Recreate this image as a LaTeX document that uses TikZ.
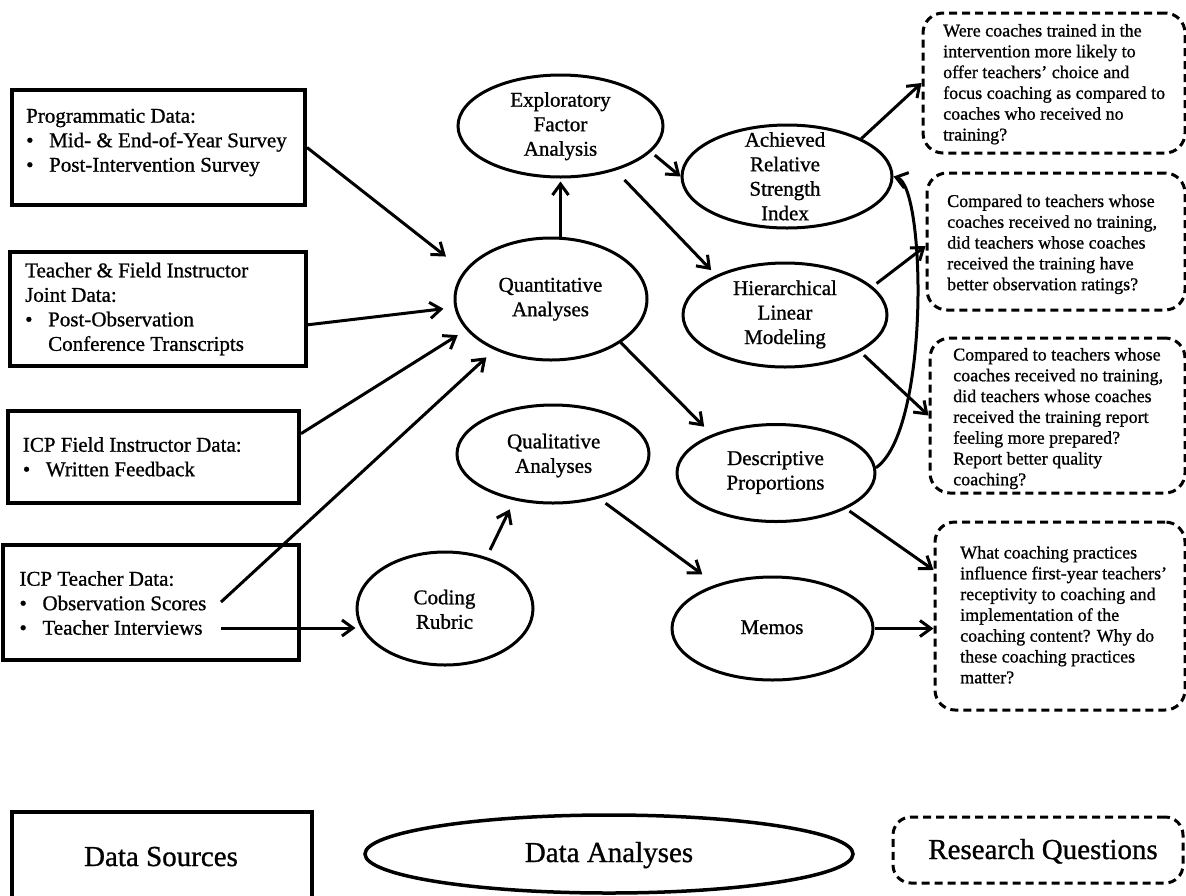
\documentclass[tikz,border=0pt]{standalone}
\usepackage{fontspec}
\setmainfont{Liberation Serif}[FakeBold=0.9]
\usetikzlibrary{arrows.meta,calc,shapes.geometric}

% stacked lines, first baseline is the node's base
\newcommand{\txtl}[1]{\begin{tabular}[t]{@{}l@{}}#1\end{tabular}}
\newcommand{\txtc}[1]{\begin{tabular}[t]{@{}c@{}}#1\end{tabular}}
\newcommand{\bitem}{\makebox[23pt][l]{\textbullet}}
\newcommand{\bcont}{\hspace*{23pt}}

\begin{document}
\begin{tikzpicture}[x=1pt,y=-1pt,
  srcbox/.style={draw, line width=4pt, inner sep=0pt},
  ana/.style={draw, ellipse, line width=3pt, inner sep=0pt},
  rqbox/.style={draw, line width=3pt, dash pattern=on 8pt off 5pt,
                rounded corners=20pt, inner sep=0pt},
  srctxt/.style={anchor=base west, inner sep=0pt, font=\fontsize{21}{24.5}\selectfont},
  anatxt/.style={anchor=base, inner sep=0pt, font=\fontsize{21}{24.5}\selectfont},
  rqtxt/.style={anchor=base west, inner sep=0pt, font=\fontsize{18}{20.8}\selectfont},
  legtxt/.style={anchor=base, inner sep=0pt, font=\fontsize{29}{34}\selectfont},
  arr/.style={line width=3pt, -{Straight Barb[length=11pt,width=16pt]}},
]
\useasboundingbox (0,0) rectangle (1186,895);

% ---------- data sources ----------
\node[srcbox, minimum width=293pt, minimum height=115pt] (prog) at (158.5,147.5) {};
\node[srctxt] (prog-t) at (26,122.7) {\txtl{Programmatic Data:\\
  \bitem Mid- \& End-of-Year Survey\\
  \bitem Post-Intervention Survey}};

\node[srcbox, minimum width=296pt, minimum height=114pt] (tfj) at (158,309) {};
\node[srctxt] (tfj-t) at (25,277.3) {\txtl{Teacher \& Field Instructor\\
  Joint Data:\\
  \bitem Post-Observation\\
  \bcont Conference Transcripts}};

\node[srcbox, minimum width=291pt, minimum height=92pt] (icpf) at (153.5,457) {};
\node[srctxt] (icpf-t) at (22.7,451.7) {\txtl{ICP Field Instructor Data:\\
  \bitem Written Feedback}};

\node[srcbox, minimum width=296pt, minimum height=115pt] (icpt) at (151,602.5) {};
\node[srctxt] (icpt-t) at (19.3,585.7) {\txtl{ICP Teacher Data:\\
  \bitem Observation Scores\\
  \bitem Teacher Interviews}};
\coordinate (obsend) at (221,602);
\coordinate (intend) at (221,628);

% ---------- analyses ----------
\node[ana, minimum width=205pt, minimum height=102pt] (efa) at (560.5,126) {};
\node[anatxt] (efa-t) at (560.5,106.7) {\txtc{Exploratory\\Factor\\Analysis}};

\node[ana, minimum width=192pt, minimum height=122pt] (quant) at (551,299) {};
\node[anatxt] (quant-t) at (550.5,291.7) {\txtc{Quantitative\\Analyses}};

\node[ana, minimum width=210pt, minimum height=103pt] (ars) at (787,176.5) {};
\node[anatxt] (ars-t) at (785,146.7) {\txtc{Achieved\\Relative\\Strength\\Index}};

\node[ana, minimum width=204pt, minimum height=104pt] (hlm) at (785,315) {};
\node[anatxt] (hlm-t) at (785,295) {\txtc{Hierarchical\\Linear\\Modeling}};

\node[ana, minimum width=198pt, minimum height=97pt] (desc) at (776,473) {};
\node[anatxt] (desc-t) at (775.5,465) {\txtc{Descriptive\\Proportions}};

\node[ana, minimum width=192pt, minimum height=98pt] (qual) at (553,454) {};
\node[anatxt] (qual-t) at (553.7,448.3) {\txtc{Qualitative\\Analyses}};

\node[ana, minimum width=176pt, minimum height=113pt] (cr) at (445,608.5) {};
\node[anatxt] (cr-t) at (444.5,604.3) {\txtc{Coding\\Rubric}};

\node[ana, minimum width=201pt, minimum height=103pt] (memos) at (772.5,628.5) {};
\node[anatxt] (memos-t) at (772,634) {Memos};

% ---------- research questions ----------
\node[rqbox, minimum width=262pt, minimum height=140pt] (rq1) at (1054,83) {};
\node[rqtxt] (rq1-t) at (943,36.5) {\txtl{Were coaches trained in the\\
  intervention more likely to\\
  offer teachers' choice and\\
  focus coaching as compared to\\
  coaches who received no\\
  training?}};

\node[rqbox, minimum width=258pt, minimum height=137pt] (rq2) at (1056,241.5) {};
\node[rqtxt] (rq2-t) at (947,207) {\txtl{Compared to teachers whose\\
  coaches received no training,\\
  did teachers whose coaches\\
  received the training have\\
  better observation ratings?}};

\node[rqbox, minimum width=255pt, minimum height=155pt] (rq3) at (1057.5,415.5) {};
\node[rqtxt] (rq3-t) at (953,360.5) {\txtl{Compared to teachers whose\\
  coaches received no training,\\
  did teachers whose coaches\\
  received the training report\\
  feeling more prepared?\\
  Report better quality\\
  coaching?}};

\node[rqbox, minimum width=250pt, minimum height=188pt] (rq4) at (1060,616) {};
\node[rqtxt] (rq4-t) at (960,558.5) {\txtl{What coaching practices\\
  influence first-year teachers'\\
  receptivity to coaching and\\
  implementation of the\\
  coaching content? Why do\\
  these coaching practices\\
  matter?}};

% ---------- connectors ----------
\draw[arr, shorten >=23pt] (prog.east) -- (quant.162);
\draw[arr, shorten >=11pt] (tfj.-6.9) -- (quant.-175.1);
\draw[arr, shorten >=10pt] (icpf.9.3) -- (quant.-160.7);
\draw[arr, shorten >=11pt] (obsend) -- (quant.-138.3);
\draw[arr] (intend) -- (intend -| cr.west);

\draw[arr, shorten >=3pt] (efa.south |- quant.north) -- (efa.south);
\draw[arr, shorten <=5pt] (efa.-16) -- (ars.west);
\draw[arr, shorten <=13pt, shorten >=7pt] (efa.-39.3) -- (hlm.150.8);
\draw[arr, shorten >=11pt] (quant.-32.5) -- (desc.149.5);
\draw[arr, shorten <=8pt, shorten >=10pt] (cr.51.5) -- (qual.-130.3);
\draw[arr, shorten <=8pt, shorten >=17pt] (qual.-44.4) -- (memos.142.8);

\draw[arr] (ars.27.8) -- (rq1.west);
\draw[arr, shorten <=5pt] (hlm.18.4) -- (rq2.182);
\draw[arr, shorten <=5pt] (hlm.-26) -- (rq3.west);
\draw[arr, shorten <=4pt] (desc.-27.2) -- (rq4.160);
\draw[arr] (memos.east) -- (memos.east -| rq4.west);
\draw[arr] (desc.3) .. controls (930,430) and (926,186) .. (ars.east);

% ---------- legend ----------
\node[srcbox, minimum width=300pt, minimum height=100pt] (lsrc) at (162,862) {};
\node[legtxt] (lsrc-t) at (161,866) {Data Sources};
\node[ana, line width=3.5pt, minimum width=488pt, minimum height=78pt] (lana) at (609,854) {};
\node[legtxt] (lana-t) at (609,862) {Data Analyses};
\node[rqbox, rounded corners=18pt, minimum width=290pt, minimum height=66pt] (lrq) at (1038,850) {};
\node[legtxt] (lrq-t) at (1043,859) {Research Questions};
\end{tikzpicture}
\end{document}
